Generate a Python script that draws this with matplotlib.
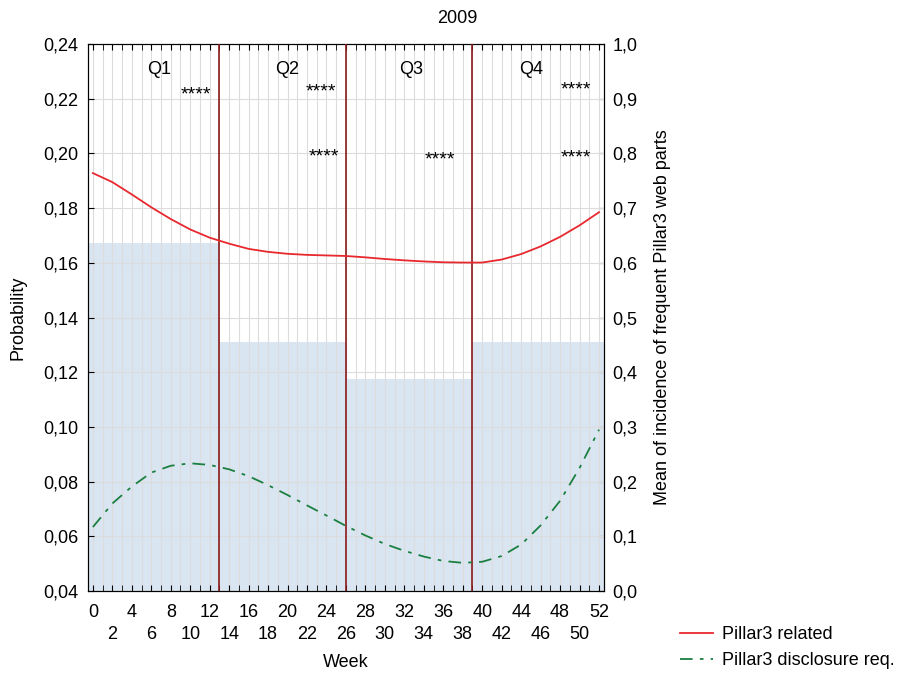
import numpy as np
import matplotlib.pyplot as plt

weeks = [0, 2, 4, 6, 8, 10, 12, 14, 16, 18, 20, 22, 24, 26,
         28, 30, 32, 34, 36, 38, 40, 42, 44, 46, 48, 50, 52]
related = [0.1928, 0.1895, 0.1850, 0.1803, 0.1760, 0.1722, 0.1692, 0.1670, 0.1651,
           0.1640, 0.1633, 0.1629, 0.1627, 0.1625, 0.1620, 0.1614, 0.1609, 0.1605,
           0.1602, 0.1601, 0.1601, 0.1612, 0.1632, 0.1660, 0.1695, 0.1737, 0.1785]
disclosure = [0.0634, 0.0720, 0.0782, 0.0833, 0.0858, 0.0867, 0.0861, 0.0845, 0.0820,
              0.0787, 0.0751, 0.0713, 0.0676, 0.0638, 0.0603, 0.0572, 0.0547, 0.0526,
              0.0510, 0.0503, 0.0507, 0.0528, 0.0570, 0.0640, 0.0730, 0.0850, 0.0990]

# quarterly means (right axis)
q_start = [-0.5, 13, 26, 39]
q_end = [13, 26, 39, 52.5]
q_mean = [0.636, 0.455, 0.388, 0.455]
q_labels = ["Q1", "Q2", "Q3", "Q4"]
q_label_x = [6.8, 20, 32.7, 45]

# significance stars (week, probability)
star_x = [10.6, 23.4, 23.7, 35.7, 49.6, 49.6]
star_y = [0.2213, 0.2224, 0.1987, 0.1976, 0.2232, 0.1984]

plt.rcParams['font.family'] = ['Liberation Sans', 'DejaVu Sans']

fig = plt.figure(figsize=(9., 6.73), dpi=100)
ax = fig.add_axes([0.0978, 0.1218, 0.5732, 0.8128])
ax2 = ax.twinx()

# bars on the right axis, drawn behind the left-axis lines
ax2.set_zorder(0)
ax.set_zorder(1)
ax.patch.set_visible(False)
for s, e, m in zip(q_start, q_end, q_mean):
    ax2.bar(s, m, width=e - s, align='edge', color='#dae5f2', edgecolor='none', zorder=1)
ax2.set_ylim(0, 1.0)
ax2.set_yticks(np.arange(0, 1.01, 0.1))
ax2.set_yticklabels([("%.1f" % v).replace('.', ',') for v in np.arange(0, 1.01, 0.1)])
ax2.set_ylabel("Mean of incidence of frequent Pillar3 web parts", fontsize=13, labelpad=12)
ax2.tick_params(axis='y', direction='in', length=4, labelsize=13, pad=6)

# grid
for w in range(0, 53):
    ax.axvline(w, color='#dcdcdc', lw=0.8, zorder=0)
for v in np.arange(0.06, 0.24, 0.02):
    ax.axhline(v, color='#dcdcdc', lw=0.8, zorder=0)

for q in [13, 26, 39]:
    ax.axvline(q, color='#8b1a1a', lw=1.2, zorder=3)

ax.plot(weeks, related, color='#e8282e', lw=1.3, label="Pillar3 related", zorder=4)
ax.plot(weeks, disclosure, color='#1a8040', lw=1.3, linestyle=(0, (7, 4, 2, 4)),
        label="Pillar3 disclosure req.", zorder=4)

for x, t in zip(q_label_x, q_labels):
    ax.text(x, 0.2305, t, ha='center', va='center', fontsize=13)
for x, y in zip(star_x, star_y):
    ax.text(x, y, "****", ha='center', va='center', fontsize=14)

ax.set_xlim(-0.5, 52.5)
ax.set_ylim(0.04, 0.24)
yt = np.arange(0.04, 0.2401, 0.02)
ax.set_yticks(yt)
ax.set_yticklabels([("%.2f" % v).replace('.', ',') for v in yt])
xt = list(range(0, 53, 2))
ax.set_xticks(xt)
ax.set_xticklabels([str(v) if v % 4 == 0 else "\n" + str(v) for v in xt], linespacing=1.45)
ax.set_xticks(range(0, 53), minor=True)
ax.tick_params(axis='both', which='both', direction='in', labelsize=13)
ax.tick_params(axis='x', which='both', top=True, length=4, pad=9)
ax.tick_params(axis='y', length=4, pad=7)
ax.set_xlabel("Week", fontsize=13, labelpad=8)
ax.set_ylabel("Probability", fontsize=13, labelpad=12)

fig.text(0.508, 0.973, "2009", ha='center', va='center', fontsize=13)

fig.legend(loc='lower left', bbox_to_anchor=(0.738, -0.018), frameon=False,
           fontsize=13, handlelength=1.8, labelspacing=0.5, handletextpad=0.5)

plt.savefig("out.png", dpi=100)
